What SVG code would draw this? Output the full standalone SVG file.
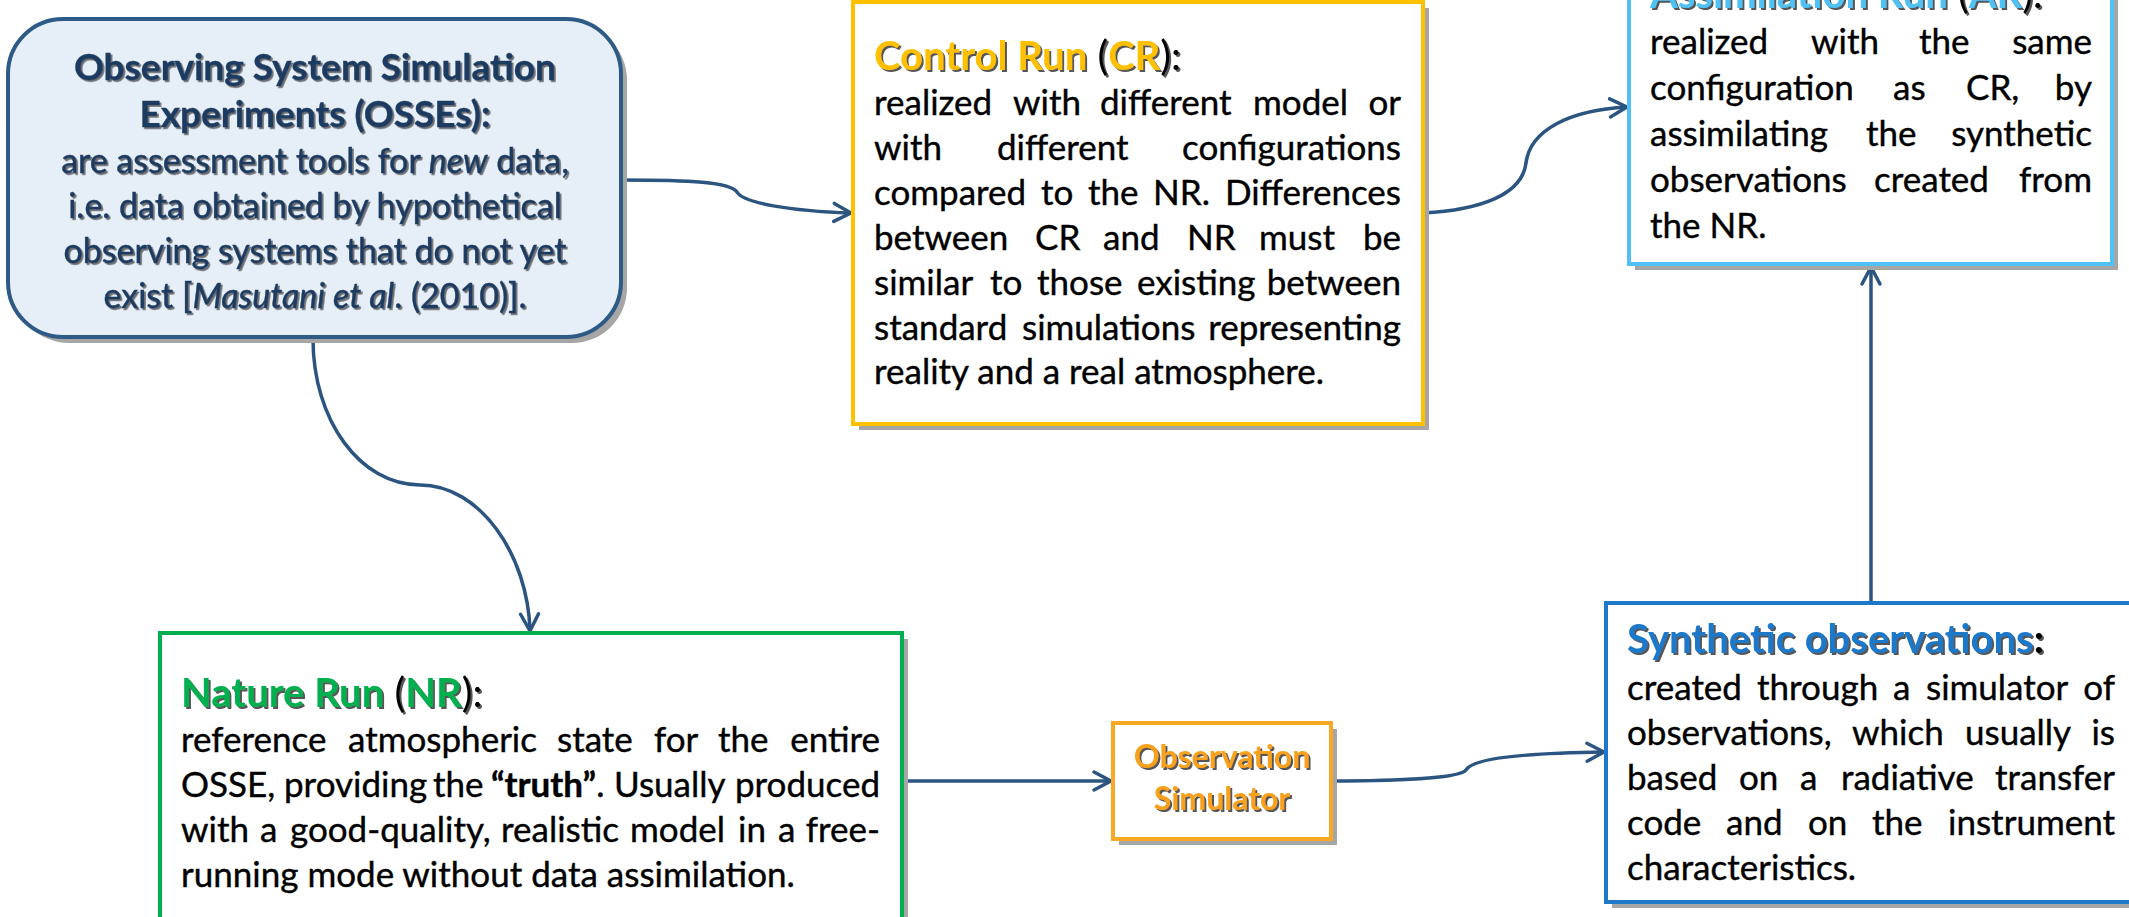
<svg xmlns="http://www.w3.org/2000/svg" width="2129" height="917" viewBox="0 0 2129 917">
<defs>
<marker id="ah" viewBox="0 0 24 24" refX="21" refY="12" markerWidth="24" markerHeight="24" markerUnits="userSpaceOnUse" orient="auto">
<path d="M4,3 L21,12 L4,21" fill="none" stroke="#2b5580" stroke-width="3.5" stroke-linecap="round" stroke-linejoin="round"/>
</marker>
<filter id="ts" x="-5%" y="-30%" width="110%" height="160%">
<feDropShadow dx="2" dy="2" stdDeviation="0.7" flood-color="#2a2a2a" flood-opacity="0.8"/>
</filter>
<filter id="tsb" x="-5%" y="-30%" width="110%" height="160%">
<feDropShadow dx="1.8" dy="1.8" stdDeviation="0.6" flood-color="#333" flood-opacity="0.7"/>
</filter>
</defs>
<style>
.sh{fill:#a6a6a6}
.bx{fill:#fff;stroke-width:4}
.t{font-family:Lato,"Liberation Sans",sans-serif;font-size:35px;fill:#000;stroke:#000;stroke-width:0.4}
.hd{font-size:40px;stroke:none}
.b{font-weight:bold}
.m{text-anchor:middle}
.e{text-anchor:end}
.o{fill:#1f3b60;stroke:#1f3b60}
.c{fill:none;stroke:#2b5580;stroke-width:3.5;marker-end:url(#ah)}
</style>
<rect width="2129" height="917" fill="#fff"/>

<g id="connectors">
<path class="c" d="M622,180 C690,180 730,182 737,192 C743,203 790,211 851,213"/>
<path class="c" d="M1423,213 C1480,210 1522,195 1526,163 C1530,130 1570,110 1627,107"/>
<path class="c" d="M313,339 C313,420 360,485 420,485 C480,485 528,555 530,631"/>
<path class="c" d="M902,781 L1111,781"/>
<path class="c" d="M1331,781 C1400,781 1460,778 1466,770 C1472,758 1530,753 1604,752"/>
<path class="c" d="M1871,604 L1871,267"/>
</g>

<g id="osse">
<rect class="sh" x="14" y="25" width="613" height="318" rx="55"/>
<rect x="8" y="19" width="613" height="318" rx="55" fill="#e6eef8" stroke="#2e5a86" stroke-width="4"/>
<g filter="url(#tsb)">
<text class="t o b m" x="315" y="80" style="font-size:37px;stroke-width:0.3">Observing System Simulation</text>
<text class="t o b m" x="315" y="127" style="font-size:37px;stroke-width:0.3">Experiments (OSSEs):</text>
<text class="t o m" x="315" y="173" style="font-size:34px">are assessment tools for <tspan font-style="italic">new</tspan> data,</text>
<text class="t o m" x="315" y="218" style="font-size:34px">i.e. data obtained by hypothetical</text>
<text class="t o m" x="315" y="263" style="font-size:34px">observing systems that do not yet</text>
<text class="t o m" x="315" y="308" style="font-size:34px">exist [<tspan font-style="italic">Masutani et al</tspan>. (2010)].</text>
</g>
</g>

<g id="control-run">
<rect class="sh" x="859" y="8" width="570" height="422"/>
<rect class="bx" x="853" y="2" width="570" height="422" stroke="#ffc000"/>
<text class="t hd" x="874" y="70" filter="url(#ts)"><tspan class="b" fill="#ffc000">Control Run</tspan> (<tspan class="b" fill="#ffc000">CR</tspan>):</text>
<text class="t" y="115"><tspan x="874">realized</tspan> <tspan x="1013">with</tspan> <tspan x="1100">different</tspan> <tspan x="1253">model</tspan> <tspan x="1401" class="e">or</tspan></text>
<text class="t" y="160"><tspan x="874">with</tspan> <tspan x="997">different</tspan> <tspan x="1401" class="e">configurations</tspan></text>
<text class="t" y="205"><tspan x="874">compared</tspan> <tspan x="1041">to</tspan> <tspan x="1088">the</tspan> <tspan x="1153">NR.</tspan> <tspan x="1401" class="e">Differences</tspan></text>
<text class="t" y="250"><tspan x="874">between</tspan> <tspan x="1035">CR</tspan> <tspan x="1103">and</tspan> <tspan x="1187">NR</tspan> <tspan x="1259">must</tspan> <tspan x="1401" class="e">be</tspan></text>
<text class="t" y="295"><tspan x="874">similar</tspan> <tspan x="990">to</tspan> <tspan x="1037">those</tspan> <tspan x="1137">existing</tspan> <tspan x="1401" class="e">between</tspan></text>
<text class="t" y="340"><tspan x="874">standard</tspan> <tspan x="1022">simulations</tspan> <tspan x="1401" class="e">representing</tspan></text>
<text class="t" x="874" y="384">reality and a real atmosphere.</text>
</g>

<g id="assimilation-run">
<rect class="sh" x="1635" y="-74" width="483" height="344"/>
<rect class="bx" x="1629" y="-80" width="483" height="344" stroke="#4fc1f2"/>
<text class="t hd" x="1650" y="8" filter="url(#ts)"><tspan class="b" fill="#4fc1f2">Assimilation Run</tspan> (<tspan class="b" fill="#4fc1f2">AR</tspan>):</text>
<text class="t" y="54"><tspan x="1650">realized</tspan> <tspan x="1811">with</tspan> <tspan x="1919">the</tspan> <tspan x="2092" class="e">same</tspan></text>
<text class="t" y="100"><tspan x="1650">configuration</tspan> <tspan x="1893">as</tspan> <tspan x="1966">CR,</tspan> <tspan x="2092" class="e">by</tspan></text>
<text class="t" y="146"><tspan x="1650">assimilating</tspan> <tspan x="1866">the</tspan> <tspan x="2092" class="e">synthetic</tspan></text>
<text class="t" y="192"><tspan x="1650">observations</tspan> <tspan x="1874">created</tspan> <tspan x="2092" class="e">from</tspan></text>
<text class="t" x="1650" y="238">the NR.</text>
</g>

<g id="nature-run">
<rect class="sh" x="166" y="639" width="742" height="300"/>
<rect class="bx" x="160" y="633" width="742" height="300" stroke="#00b050"/>
<text class="t hd" x="181" y="707" filter="url(#ts)"><tspan class="b" fill="#00b050">Nature Run</tspan> (<tspan class="b" fill="#00b050">NR</tspan>):</text>
<text class="t" y="752"><tspan x="181">reference</tspan> <tspan x="348">atmospheric</tspan> <tspan x="557">state</tspan> <tspan x="654">for</tspan> <tspan x="718">the</tspan> <tspan x="880" class="e">entire</tspan></text>
<text class="t" y="797"><tspan x="181">OSSE,</tspan> <tspan x="284">providing</tspan> <tspan x="433">the</tspan> <tspan x="491"><tspan class="b">“truth”</tspan>.</tspan> <tspan x="614">Usually</tspan> <tspan x="880" class="e">produced</tspan></text>
<text class="t" y="842"><tspan x="181">with</tspan> <tspan x="260">a</tspan> <tspan x="290">good-quality,</tspan> <tspan x="501">realistic</tspan> <tspan x="630">model</tspan> <tspan x="738">in</tspan> <tspan x="778">a</tspan> <tspan x="880" class="e">free-</tspan></text>
<text class="t" x="181" y="887">running mode without data assimilation.</text>
</g>

<g id="observation-simulator">
<rect class="sh" x="1119" y="729" width="218" height="116"/>
<rect class="bx" x="1113" y="723" width="218" height="116" stroke="#f9a825"/>
<g filter="url(#ts)">
<text class="t b m" x="1222" y="768" style="fill:#f9a01b;stroke:none;font-size:32px">Observation</text>
<text class="t b m" x="1222" y="810" style="fill:#f9a01b;stroke:none;font-size:32px">Simulator</text>
</g>
</g>

<g id="synthetic-observations">
<rect class="sh" x="1612" y="609" width="530" height="299"/>
<rect class="bx" x="1606" y="603" width="530" height="299" stroke="#1e78c8"/>
<text class="t hd b" x="1627" y="653" filter="url(#ts)"><tspan fill="#1e78c8">Synthetic observations</tspan>:</text>
<text class="t" y="700"><tspan x="1627">created</tspan> <tspan x="1757">through</tspan> <tspan x="1893">a</tspan> <tspan x="1926">simulator</tspan> <tspan x="2115" class="e">of</tspan></text>
<text class="t" y="745"><tspan x="1627">observations,</tspan> <tspan x="1852">which</tspan> <tspan x="1965">usually</tspan> <tspan x="2115" class="e">is</tspan></text>
<text class="t" y="790"><tspan x="1627">based</tspan> <tspan x="1739">on</tspan> <tspan x="1800">a</tspan> <tspan x="1841">radiative</tspan> <tspan x="2115" class="e">transfer</tspan></text>
<text class="t" y="835"><tspan x="1627">code</tspan> <tspan x="1726">and</tspan> <tspan x="1808">on</tspan> <tspan x="1872">the</tspan> <tspan x="2115" class="e">instrument</tspan></text>
<text class="t" x="1627" y="880">characteristics.</text>
</g>
</svg>
